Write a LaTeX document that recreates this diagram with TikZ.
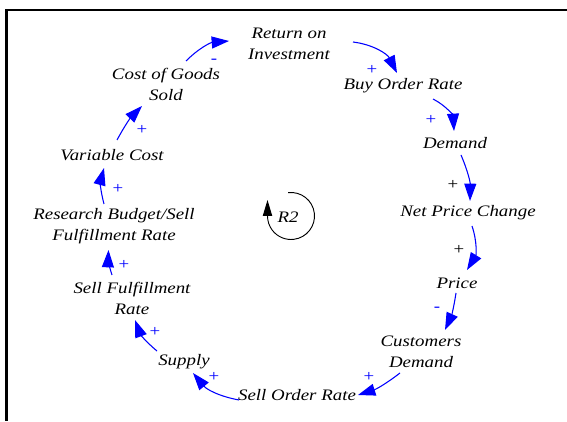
\documentclass[tikz,border=0pt]{standalone}
\usepackage{fontspec}
\newfontfamily\vfont[FakeStretch=1.18]{Liberation Serif}
\usetikzlibrary{arrows.meta}
\begin{document}
\begin{tikzpicture}[x=0.75pt,y=0.75pt,
  var/.style={font=\vfont\itshape\fontsize{12}{15.75}\selectfont, align=center, inner sep=0pt},
  lnk/.style={draw=blue, line width=0.8pt, -{Triangle[length=13pt,width=9pt]}},
  sgn/.style={font=\vfont\fontsize{12}{12}\selectfont, text=blue, inner sep=0pt},
  sgnk/.style={sgn, text=black},
  frame/.style={draw=black, line width=1.6pt}]
\useasboundingbox (0,0) rectangle (567,421);
% frame (top and left edges)
\coordinate (ftr) at (567,411);
\coordinate (ftl) at (6.5,411);
\coordinate (fbl) at (6.5,0);
\draw[frame] (ftr) -- (ftl) -- (fbl);
% variables
\node[var] (roi)   at (289,377) {Return on\\Investment};
\node[var] (bor)   at (403,335) {Buy Order Rate};
\node[var] (dem)   at (455,278) {Demand};
\node[var] (npc)   at (468,208) {Net Price Change};
\node[var] (price) at (457,138) {Price};
\node[var] (cd)    at (421,69)  {Customers\\Demand};
\node[var] (sor)   at (297,26)  {Sell Order Rate};
\node[var] (sup)   at (184,59)  {Supply};
\node[var] (sfr)   at (132,123) {Sell Fulfillment\\Rate};
\node[var] (rb)    at (114,195) {Research Budget/Sell\\Fulfillment Rate};
\node[var] (vc)    at (112,266) {Variable Cost};
\node[var] (cogs)  at (166,337) {Cost of Goods\\Sold};
% links
\draw[lnk] ([shift={(20,23)}]cogs.center) to[bend left=20] ([shift={(-60,3)}]roi.center);
\draw[lnk] ([shift={(64,2)}]roi.center) to[bend left=28] ([shift={(-6,13)}]bor.center);
\draw[lnk] ([shift={(30,-13)}]bor.center) to[bend left=30] ([shift={(-1,12)}]dem.center);
\draw[lnk] ([shift={(6,-12)}]dem.center) to[bend left=12] ([shift={(2,12)}]npc.center);
\draw[lnk] ([shift={(4,-13)}]npc.center) to[bend left=25] ([shift={(10,13)}]price.center);
\draw[lnk] ([shift={(-1,-10)}]price.center) to[bend left=8] ([shift={(24,22)}]cd.center);
\draw[lnk] ([shift={(-21,-21)}]cd.center) to[bend left=10] ([shift={(61,0)}]sor.center);
\draw[lnk] ([shift={(-58,-5)}]sor.center) to[bend left=20] ([shift={(9,-11)}]sup.center);
\draw[lnk] ([shift={(-27,11)}]sup.center) to[bend left=15] ([shift={(3,-22)}]sfr.center);
\draw[lnk] ([shift={(-20,23)}]sfr.center) to[bend left=10] ([shift={(-5.5,-24)}]rb.center);
\draw[lnk] ([shift={(-10,22)}]rb.center) to[bend left=15] ([shift={(-8,-13)}]vc.center);
\draw[lnk] ([shift={(5,15)}]vc.center) to[bend left=8] ([shift={(-24,-22)}]cogs.center);
% polarity signs
\node[sgn]  (s1)  at (214,360) {-};
\node[sgn]  (s2)  at (372,351) {+};
\node[sgn]  (s3)  at (431,301) {+};
\node[sgnk] (s4)  at (453,236) {+};
\node[sgnk] (s5)  at (459,171) {+};
\node[sgn]  (s6)  at (437,112) {-};
\node[sgn]  (s7)  at (369,44)  {+};
\node[sgn]  (s8)  at (214,44)  {+};
\node[sgn]  (s9)  at (155,89)  {+};
\node[sgn]  (s10) at (124,156) {+};
\node[sgn]  (s11) at (118,232) {+};
\node[sgn]  (s12) at (142,291) {+};
% loop marker
\coordinate (r2c) at (291,205);
\node[var] (r2) at (288,204) {R2};
\draw[black, line width=0.7pt, -{Triangle[length=12pt,width=7pt]}]
  ([shift={(97:23.5)}]r2c) arc[start angle=97, end angle=-180, radius=23.5] -- ++(0,16);
\end{tikzpicture}
\end{document}
